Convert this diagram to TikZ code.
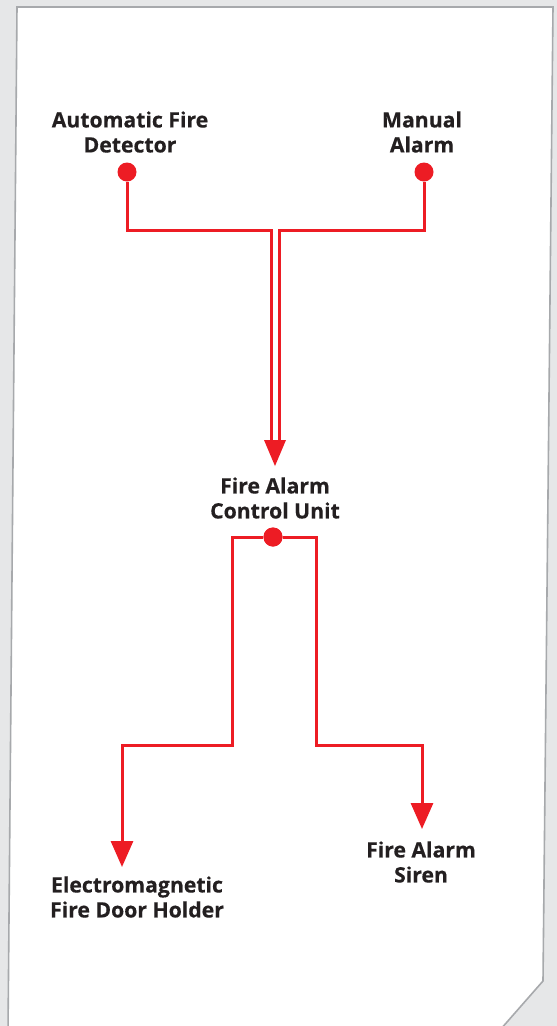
\documentclass[tikz,border=0pt]{standalone}
\usepackage{fontspec}
\setmainfont{Open Sans}[BoldFeatures={FakeBold=0.4}]
\usetikzlibrary{arrows.meta}
\definecolor{firered}{HTML}{ED1C24}
\definecolor{bggray}{HTML}{E6E7E8}
\definecolor{edgegray}{HTML}{A7A9AC}
\definecolor{ink}{HTML}{231F20}
\begin{document}
\begin{tikzpicture}[x=1pt,y=-1pt,
  lbl/.style={align=center,text=ink,font=\fontsize{21.2}{25}\selectfont\bfseries,inner sep=0pt},
  dot/.style={circle,fill=firered,minimum size=19pt,inner sep=0pt},
  wire/.style={draw=firered,line width=3pt},
  head/.style={-{Triangle[width=22pt,length=26pt]}}
]
\fill[bggray] (0,0) rectangle (557,1026);
\useasboundingbox (0,0) rectangle (557,1026);
\begin{scope}
\clip (0,0) rectangle (557,1026);
\filldraw[fill=white,draw=edgegray,line width=1.6pt] (17,7) -- (553,7) -- (543,981) -- (500,1030) -- (8,1032) -- cycle;
\end{scope}

% labels
\node[lbl] (tDet) at (130,132) {Automatic Fire\\Detector};
\node[lbl] (tMan) at (422,132) {Manual\\Alarm};
\node[lbl] (tCtl) at (275,498) {Fire Alarm\\Control Unit};
\node[lbl] (tSir) at (421,862) {Fire Alarm\\Siren};
\node[lbl] (tHol) at (137,897) {Electromagnetic\\Fire Door Holder};

% dots
\node[dot] (dDet) at (127,172) {};
\node[dot] (dMan) at (424,172) {};
\node[dot] (dCtl) at (273,537) {};

% coordinates
\coordinate (jA) at (271,230);
\coordinate (jB) at (279,230);
\coordinate (eA) at (271,442);
\coordinate (eB) at (279,442);
\coordinate (hTop) at (275,440);
\coordinate (hTip) at (275,466);
\coordinate (l1) at (232,537);
\coordinate (l2) at (232,745);
\coordinate (l3) at (122,745);
\coordinate (tipL) at (122,867);
\coordinate (r1) at (316,537);
\coordinate (r2) at (316,745);
\coordinate (r3) at (422,745);
\coordinate (tipR) at (422,829);

% inputs
\draw[wire] (dDet) |- (jA) -- (eA);
\draw[wire] (dMan) |- (jB) -- (eB);
\fill[firered] (hTop) ++(-11,0) -- ++(22,0) -- (hTip) -- cycle;

% outputs
\draw[wire,head] (dCtl) -- (l1) -- (l2) -- (l3) -- (tipL);
\draw[wire,head] (dCtl) -- (r1) -- (r2) -- (r3) -- (tipR);
\node[dot] at (dCtl) {};
\end{tikzpicture}
\end{document}
